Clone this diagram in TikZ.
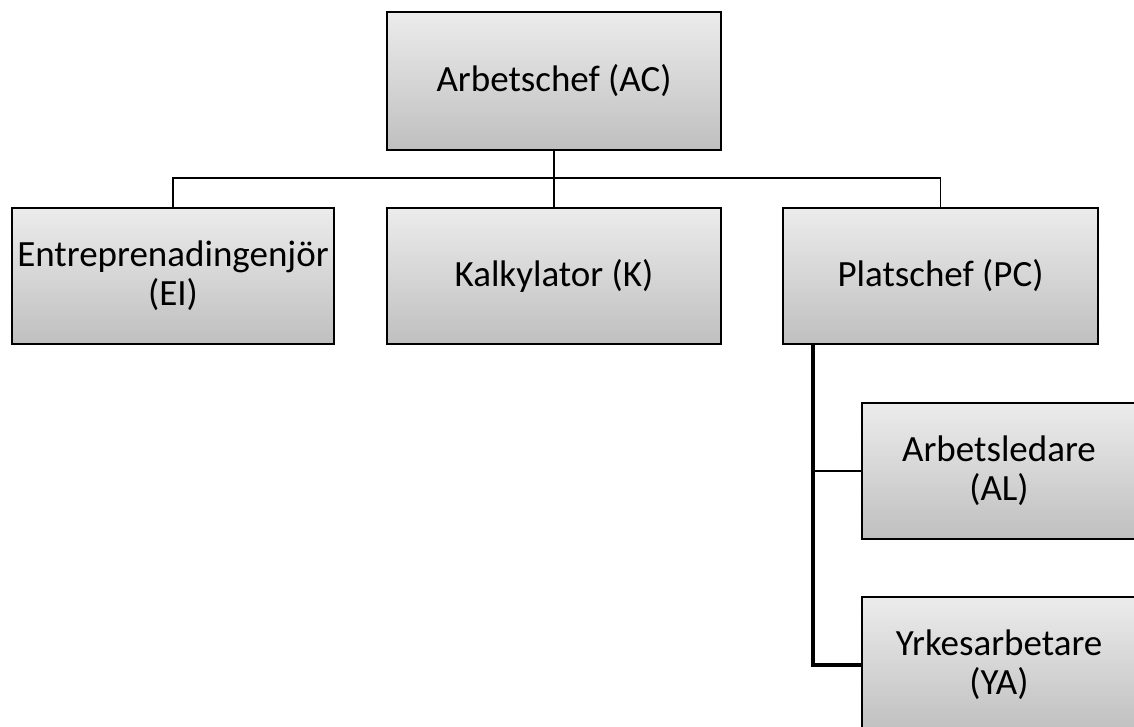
\documentclass[tikz,border=0pt]{standalone}
\usepackage{fontspec}
\setmainfont{Carlito}
\usetikzlibrary{calc}
\begin{document}
\begin{tikzpicture}[x=1bp,y=-1bp,
  orgbox/.style={draw=black, line width=1.8bp, rectangle, top color=gray!15, bottom color=gray!50,
    align=center, inner sep=0pt, font=\fontsize{37bp}{39bp}\selectfont},
  thin/.style={line width=1.5bp, black},
  thick/.style={line width=4.2bp, black}]
\useasboundingbox (0,0) rectangle (1134,727);
\clip (0,0) rectangle (1134,727);
\node[orgbox, minimum width=334bp, minimum height=138bp] (AC) at (554,81) {Arbetschef (AC)};
\node[orgbox, minimum width=322bp, minimum height=136bp] (EI) at (173,276) {Entreprenadingenjör\\(EI)};
\node[orgbox, minimum width=334bp, minimum height=136bp] (K) at (554,276) {Kalkylator (K)};
\node[orgbox, minimum width=315bp, minimum height=136bp] (PC) at (940.5,276) {Platschef (PC)};
\node[orgbox, minimum width=274bp, minimum height=136bp] (AL) at (999,471) {Arbetsledare\\(AL)};
\node[orgbox, minimum width=274bp, minimum height=136bp] (YA) at (999,665) {Yrkesarbetare\\(YA)};
\coordinate (bus) at (554,178);
\coordinate (pcx) at ($(PC.south west)+(31,0)$);
\draw[thin] (AC.south) -- (K.north);
\draw[thin] (EI.north) -- (EI.north |- bus) -- (PC.north |- bus) -- (PC.north);
\draw[thin] (pcx |- AL.west) -- (AL.west);
\draw[thick] (pcx) |- (YA.west);
\end{tikzpicture}
\end{document}
